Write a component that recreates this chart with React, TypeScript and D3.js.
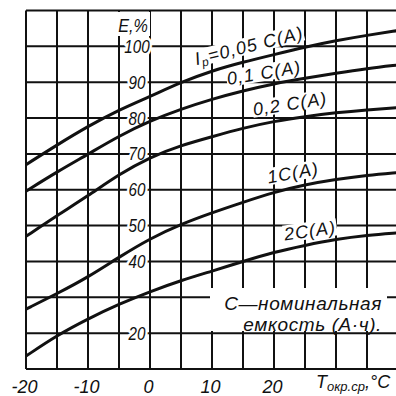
import React from "react";
import * as d3 from "d3";

const temps = [-20, -15, -10, -5, 0, 5, 10, 15, 20, 25, 30, 35, 40];
const e005 = [67, 72.5, 77.7, 82.3, 86, 90, 93.2, 95.6, 97.7, 99.8, 101.6, 103.1, 104.4];
const e01 = [59.6, 65, 69.9, 75, 79.2, 82.5, 85.3, 87.6, 89.6, 91.1, 92.5, 93.8, 94.8];
const e02 = [47, 52.8, 58.3, 64.3, 69.1, 72.4, 74.8, 77.2, 79.1, 80.4, 81.5, 82.3, 82.9];
const e1 = [26.7, 31, 35.6, 41.2, 46.4, 50.4, 53.6, 56.5, 59.3, 61.4, 62.9, 64, 64.8];
const e2 = [13.6, 19.4, 24, 28.1, 31.6, 34.7, 37.3, 40, 42.6, 44.5, 46.2, 47.3, 48];

const xTicks = [-20, -10, 0, 10, 20];
const xGrid = [-20, -15, -10, -5, 0, 5, 10, 15, 20, 25, 30, 35, 40];
const yGrid = [10, 20, 30, 40, 50, 60, 70, 80, 90, 100, 110];
const yLabels = [100, 90, 80, 70, 60, 50, 40, 20];

const FONT = "'Liberation Sans', Arial, sans-serif";

export default function App() {
  const x = d3.scaleLinear().domain([-20, 40]).range([26, 398]);
  const y = d3.scaleLinear().domain([10, 110]).range([369, 10.5]);
  const line = d3
    .line<number>()
    .x((_, i) => x(temps[i]))
    .y((d) => y(d))
    .curve(d3.curveBasis);

  const series = [e005, e01, e02, e1, e2];

  const halo = {
    stroke: "#fff",
    strokeWidth: 5,
    paintOrder: "stroke" as const,
    strokeLinejoin: "round" as const,
  };

  const curveLabels = [
    { cx: 249, cy: 46, a: -14, w: 112 },
    { cx: 264, cy: 73, a: -9.5, w: 76 },
    { cx: 290, cy: 104, a: -9, w: 76 },
    { cx: 293, cy: 173, a: -10, w: 54 },
    { cx: 310, cy: 231, a: -8, w: 54 },
  ];

  return (
    <svg
      width={396}
      height={396}
      style={{ position: "absolute", left: 0, top: 0, background: "#fff" }}
      fontFamily={FONT}
    >
      <rect x={0} y={0} width={396} height={396} fill="#fff" />
      {/* grid */}
      <g stroke="#111" strokeWidth={2}>
        {xGrid.map((t) => (
          <line key={"v" + t} x1={x(t)} x2={x(t)} y1={y(110)} y2={y(10)} />
        ))}
        {yGrid.map((v) => (
          <line key={"h" + v} x1={x(-20)} x2={398} y1={y(v)} y2={y(v)} />
        ))}
      </g>
      {/* white boxes */}
      <rect x={113} y={12} width={37} height={24} fill="#fff" />
      <rect x={210} y={288} width={177} height={43} fill="#fff" />
      <g fontStyle="italic" fill="#111">
        <g transform={`translate(133,32) scale(0.85,1)`}>
          <text textAnchor="middle" fontSize={19}>E,%</text>
        </g>
        {yLabels.map((v) => (
          <g key={"yl" + v} transform={`translate(137,${y(v) + 6.5}) scale(0.8,1)`}>
            <text textAnchor="middle" fontSize={19} {...halo} strokeWidth={6}>
              {v}
            </text>
          </g>
        ))}
      </g>
      {/* curve labels with white background */}
      <g fontStyle="italic" fill="#111" fontSize={18} letterSpacing={1}>
        {curveLabels.map((c, i) => (
          <g key={"cl" + i} transform={`translate(${c.cx},${c.cy}) rotate(${c.a})`}>
            <rect x={-c.w / 2} y={-9} width={c.w} height={17} fill="#fff" />
            <text textAnchor="middle" y={6}>
              {i === 0 ? (
                <>
                  <tspan>I</tspan>
                  <tspan fontSize={12} dy={3}>р</tspan>
                  <tspan dy={-3}>=0,05 C(A)</tspan>
                </>
              ) : i === 1 ? (
                "0,1 C(A)"
              ) : i === 2 ? (
                "0,2 C(A)"
              ) : i === 3 ? (
                "1C(A)"
              ) : (
                "2C(A)"
              )}
            </text>
          </g>
        ))}
      </g>
      {/* curves */}
      <g fill="none" stroke="#111" strokeWidth={3}>
        {series.map((s, i) => (
          <path key={"s" + i} d={line(s) || ""} />
        ))}
      </g>
      {/* note */}
      <g fontStyle="italic" fill="#111" fontSize={19}>
        <text x={382} y={310} textAnchor="end" letterSpacing={0.6}>C—номинальная</text>
        <text x={382} y={331} textAnchor="end" letterSpacing={0.6}>емкость (А·ч).</text>
      </g>
      {/* x tick labels */}
      <g fontStyle="italic" fill="#111" fontSize={18}>
        {xTicks.map((t) => (
          <text key={"xt" + t} x={x(t) - 1.5} y={393} textAnchor="middle">
            {t}
          </text>
        ))}
        <text x={316} y={388}>
          <tspan>T</tspan>
          <tspan fontSize={13} dy={3}>окр.ср</tspan>
          <tspan dy={-3}>,°C</tspan>
        </text>
      </g>
    </svg>
  );
}
